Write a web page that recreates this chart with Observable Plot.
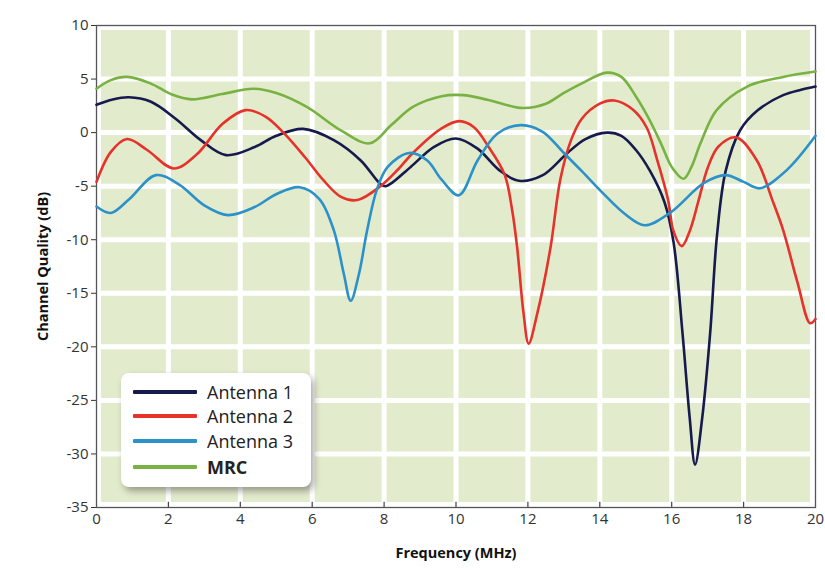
<!DOCTYPE html>
<html>
<head>
<meta charset="utf-8">
<script src="https://cdn.jsdelivr.net/npm/d3@7"></script>
<script src="https://cdn.jsdelivr.net/npm/@observablehq/plot@0.6"></script>
<style>
  html, body { margin: 0; padding: 0; background: #fff; }
  #wrap { position: relative; width: 825px; height: 574px; font-family: "Open Sans", sans-serif; }
  #wrap svg g[aria-label="x-axis label"] text,
  #wrap svg g[aria-label="y-axis label"] text { font-weight: bold; font-size: 14.5px; fill: #111; }
  #legend { position: absolute; left: 121px; top: 373px; width: 190px; height: 114px; background: #fff;
    border-radius: 8px; box-shadow: 3px 4px 7px rgba(0,0,0,0.35); }
  .row { position: absolute; left: 0; height: 22px; display: flex; align-items: center; }
  .sw { width: 64px; height: 4px; margin-left: 12px; margin-right: 10px; border-radius: 1px; }
  .lab { font-size: 18px; color: #222; }
</style>
</head>
<body>
<div id="wrap"></div>
<script>
// ---- data ----
const seriesNames = ["Antenna 1", "Antenna 2", "Antenna 3", "MRC"];
const seriesColors = ["#161a4c", "#e5332b", "#2b91c9", "#78b243"];

const a1Freq = [0,0.45,0.9,1.5,2.2,2.9,3.6,4.4,5.0,5.75,6.6,7.35,7.9,8.05,8.74,9.38,10.0,10.6,11.2,11.75,12.4,13.1,13.6,14.2,14.6,15.0,15.4,15.8,16.05,16.3,16.5,16.65,16.85,17.07,17.26,17.5,17.9,18.4,19.1,19.6,20];
const a1Val  = [2.6,3.1,3.3,2.9,1.3,-0.7,-2.1,-1.35,-0.3,0.35,-0.7,-2.6,-4.8,-5.0,-3.2,-1.35,-0.55,-1.5,-3.5,-4.5,-4.0,-1.9,-0.6,0,-0.3,-1.6,-3.6,-6.5,-10.2,-18.7,-26.6,-31,-26.6,-18.7,-9.6,-3.6,0.2,2.1,3.5,4.0,4.3];

const a2Freq = [0,0.4,0.85,1.4,2.15,2.8,3.5,4.15,4.7,5.2,5.8,6.3,6.8,7.25,7.9,8.4,8.8,9.6,10.1,10.5,10.9,11.35,11.56,11.7,11.88,12.02,12.26,12.63,12.9,13.2,13.5,14.0,14.4,14.9,15.3,15.6,15.9,16.05,16.28,16.5,16.75,17.0,17.3,17.8,18.37,18.8,19.1,19.5,19.85,20];
const a2Val  = [-4.6,-1.8,-0.6,-1.6,-3.35,-2.0,0.8,2.1,1.5,0,-2.3,-4.4,-6.0,-6.3,-5.0,-3.4,-1.9,0.4,1.07,0.5,-1.3,-3.9,-7.2,-10.7,-16.9,-19.7,-16.9,-10.7,-4.4,-0.7,1.3,2.7,3.0,2.2,0.5,-2.6,-6.3,-9.2,-10.6,-9.2,-6.3,-3.3,-1.3,-0.45,-2.6,-6.3,-9.1,-14,-17.8,-17.4];

const a3Freq = [0,0.4,0.9,1.65,2.3,3.0,3.65,4.4,5.0,5.65,6.2,6.6,6.88,7.07,7.3,7.53,7.8,8.1,8.7,9.2,9.6,10.08,10.6,11.15,11.8,12.4,13.0,13.5,14.1,14.7,15.25,15.95,16.9,17.5,18.0,18.45,19.2,20];
const a3Val  = [-6.9,-7.5,-6.25,-3.97,-4.85,-6.8,-7.7,-6.95,-5.75,-5.1,-6.2,-9.1,-13.2,-15.7,-13.2,-9.1,-5.3,-3.2,-1.9,-2.6,-4.4,-5.85,-2.6,-0.1,0.7,0.1,-1.9,-3.6,-5.7,-7.6,-8.65,-7.5,-4.7,-3.97,-4.6,-5.2,-3.5,-0.3];

const mrcFreq = [0,0.4,0.85,1.5,2.1,2.65,3.5,4.35,5.0,5.85,6.8,7.6,8.2,8.8,9.6,10.2,10.9,11.85,12.5,13.0,13.5,14.2,14.6,15.0,15.35,15.7,16.0,16.33,16.55,16.8,17.25,18.1,19.1,20];
const mrcVal  = [4.1,4.9,5.2,4.6,3.55,3.1,3.6,4.1,3.7,2.4,0.2,-1.0,0.7,2.4,3.4,3.5,3.05,2.3,2.7,3.7,4.6,5.6,5.2,3.4,1.4,-1.0,-3.2,-4.3,-3.2,-1.0,2.1,4.3,5.2,5.7];

const xTicks = [0,2,4,6,8,10,12,14,16,18,20];
const yTicks = [10,5,0,-5,-10,-15,-20,-25,-30,-35];
const xGrid = [2,4,6,8,10,12,14,16,18];
const yGrid = [5,0,-5,-10,-15,-20,-25,-30];

// ---- build table ----
const freqs = [a1Freq, a2Freq, a3Freq, mrcFreq];
const vals = [a1Val, a2Val, a3Val, mrcVal];
const rows = [];
seriesNames.forEach((name, i) => {
  freqs[i].forEach((f, j) => rows.push({series: name, freq: f, value: vals[i][j]}));
});

const chart = Plot.plot({
  width: 825,
  height: 574,
  marginLeft: 96,
  marginRight: 10,
  marginTop: 25,
  marginBottom: 67,
  style: {fontFamily: "'Open Sans', sans-serif", fontSize: "15px", color: "#333", background: "#fff"},
  x: {domain: [0, 20], ticks: xTicks, tickSize: 0, tickPadding: 6, tickFormat: d => `${d}`,
      label: "Frequency (MHz)", labelAnchor: "center", labelOffset: 50, labelArrow: "none"},
  y: {domain: [-35, 10], ticks: yTicks, tickSize: 5, tickPadding: 3, tickFormat: d => `${d}`,
      label: "Channel Quality (dB)", labelAnchor: "center", labelOffset: 59, labelArrow: "none"},
  color: {domain: seriesNames, range: seriesColors},
  marks: [
    Plot.rect([0], {x1: () => 0, x2: () => 20, y1: () => -35, y2: () => 10, fill: "#e3ebcd", inset: 5}),
    Plot.ruleX(xGrid, {stroke: "#fff", strokeWidth: 5, insetTop: 5, insetBottom: 5}),
    Plot.ruleY(yGrid, {stroke: "#fff", strokeWidth: 5, insetLeft: 5, insetRight: 5}),
    Plot.ruleX(xTicks.slice(1, -1), {y1: () => -35, y2: () => -34.5, stroke: "#444", strokeWidth: 1.2}),
    Plot.frame({stroke: "#555", strokeWidth: 1.3}),
    Plot.line(rows, {x: "freq", y: "value", z: "series", stroke: "series", strokeWidth: 2.6, curve: "catmull-rom"})
  ]
});

const wrap = document.getElementById("wrap");
wrap.appendChild(chart);

// legend
const legend = document.createElement("div");
legend.id = "legend";
const rowTops = [8, 32, 57, 83];
seriesNames.forEach((name, i) => {
  const r = document.createElement("div");
  r.className = "row";
  r.style.top = rowTops[i] + "px";
  const sw = document.createElement("div");
  sw.className = "sw";
  sw.style.background = seriesColors[i];
  const lab = document.createElement("span");
  lab.className = "lab";
  lab.textContent = name;
  if (name === "MRC") lab.style.fontWeight = "bold";
  r.appendChild(sw);
  r.appendChild(lab);
  legend.appendChild(r);
});
wrap.appendChild(legend);
</script>
</body>
</html>
